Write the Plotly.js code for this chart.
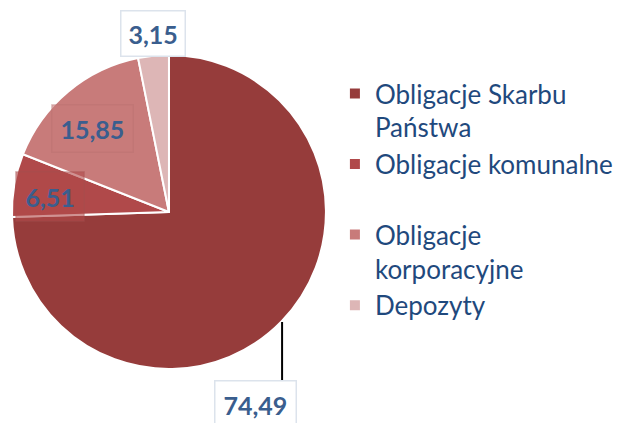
<!DOCTYPE html>
<html><head><meta charset="utf-8">
<script src="https://cdn.plot.ly/plotly-3.0.1.min.js"></script>
<style>body{margin:0;background:#fff}#c{width:618px;height:423px}</style>
</head><body><div id="c"></div>
<script>
const categories = ["Obligacje Skarbu<br>Państwa", "Obligacje komunalne<br> ", "Obligacje<br>korporacyjne", "Depozyty"];
const values = [74.49, 6.51, 15.85, 3.15];
const colors = ["#963C3B", "#B0494A", "#C87B7A", "#DDB6B6"];

const W = 618, H = 423;
const fmt = v => v.toFixed(2).replace('.', ',');
// label box centres (pixels) for each slice
const labelPos = [[256, 404], [50, 196], [93, 128], [153, 33]];
const boxBg = ["#FFFFFF", "rgba(176,73,74,0.6)", "rgba(200,123,122,0.6)", "#FFFFFF"];
const boxBorder = ["#DCE3EC", "rgba(160,80,80,0.3)", "rgba(180,110,110,0.3)", "#DCE3EC"];
const pads = [8, 9, 8, 7];

const annotations = values.map((v, i) => ({
  text: fmt(v), xref: 'paper', yref: 'paper',
  x: labelPos[i][0] / W, y: 1 - labelPos[i][1] / H,
  xanchor: 'center', yanchor: 'middle',
  showarrow: false,
  font: {family: 'Lato, "Open Sans", sans-serif', size: 25, color: '#3A5E8E', weight: 'bold'},
  bgcolor: boxBg[i], bordercolor: boxBorder[i], borderwidth: 1.5,
  borderpad: pads[i]
}));

Plotly.newPlot('c', [{
  type: 'pie', labels: categories, values: values, sort: false,
  direction: 'clockwise', rotation: 0,
  marker: {colors: colors, line: {color: '#FFFFFF', width: 2}},
  textinfo: 'none', hoverinfo: 'none',
  domain: {x: [12 / W, 327 / W], y: [54 / H, 368 / H]}
}], {
  width: W, height: H, margin: {l: 0, r: 0, t: 0, b: 0},
  paper_bgcolor: '#fff', showlegend: true,
  legend: {x: 336 / W, y: 1 - 70 / H, xanchor: 'left', yanchor: 'top', valign: 'top',
    font: {family: 'Lato, "Open Sans", sans-serif', size: 26, color: '#1F497D'},
    itemwidth: 30, tracegroupgap: 0},
  annotations: annotations,
  shapes: [{type: 'line', xref: 'paper', yref: 'paper',
    x0: 283 / W, x1: 283 / W, y0: 1 - 322 / H, y1: 1 - 380 / H,
    line: {color: '#000', width: 2}}]
}, {staticPlot: true});
</script></body></html>
